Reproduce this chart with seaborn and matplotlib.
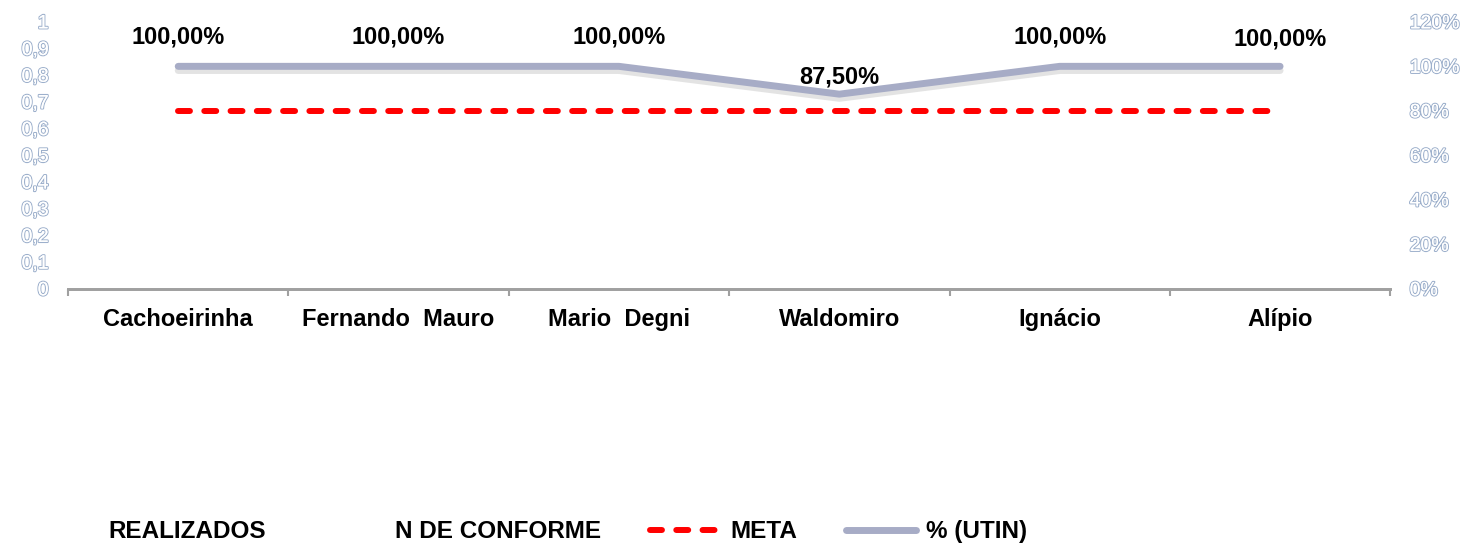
import matplotlib

matplotlib.use("Agg")
import matplotlib.pyplot as plt
import matplotlib.patheffects as pe
from matplotlib.lines import Line2D
import numpy as np
import pandas as pd
import seaborn as sns

# Données
unidades = ["Cachoeirinha", "Fernando  Mauro", "Mario  Degni", "Waldomiro", "Ignácio", "Alípio"]
utin_pct = [1.0, 1.0, 1.0, 0.875, 1.0, 1.0]
meta_pct = [0.8, 0.8, 0.8, 0.8, 0.8, 0.8]
rotulos = ["100,00%", "100,00%", "100,00%", "87,50%", "100,00%", "100,00%"]
left_ticks = [0, 0.1, 0.2, 0.3, 0.4, 0.5, 0.6, 0.7, 0.8, 0.9, 1.0]
left_labels = ["0", "0,1", "0,2", "0,3", "0,4", "0,5", "0,6", "0,7", "0,8", "0,9", "1"]
right_ticks = [0, 0.2, 0.4, 0.6, 0.8, 1.0, 1.2]
right_labels = ["0%", "20%", "40%", "60%", "80%", "100%", "120%"]

sns.set_theme(style="white")
FAM = ["Liberation Sans Narrow", "Liberation Sans", "DejaVu Sans"]
plt.rcParams["font.family"] = FAM

GREY = "#A7ACC6"
RED = "#FF0000"
hollow = [pe.withStroke(linewidth=1.6, foreground="#9DB0CC"), pe.Normal()]

df = pd.DataFrame({"unidade": unidades, "utin": utin_pct, "meta": meta_pct})

fig = plt.figure(figsize=(14.79, 5.46), dpi=100)
ax = fig.add_axes([0.046, 0.471, 0.894, 0.489])
ax2 = ax.twinx()

x = np.arange(len(unidades))
sns.lineplot(x=x, y=df["meta"], ax=ax2, color=RED, lw=4.3)
ax2.lines[-1].set_dashes((2.0, 2.4))
ax2.lines[-1].set_dash_capstyle("round")
sns.lineplot(x=x, y=df["utin"], ax=ax2, color=GREY, lw=5,
             path_effects=[pe.SimpleLineShadow(offset=(0, -3), shadow_color="#C8C8C8", alpha=0.5),
                           pe.Normal()])

offsets = [21, 21, 21, 12, 21, 20]
for xi, v, lab, off in zip(x, utin_pct, rotulos, offsets):
    ax2.annotate(lab, (xi, v), xytext=(0, off), textcoords="offset points",
                 ha="center", va="center", fontsize=17, fontweight="bold",
                 color="black")

ax.set_xlim(-0.5, len(unidades) - 0.5)
ax.set_ylim(0, 1)
ax2.set_ylim(0, 1.2)
ax.set_yticks(left_ticks)
ax.set_yticklabels(left_labels)
ax2.set_yticks(right_ticks)
ax2.set_yticklabels(right_labels)
for t in ax.get_yticklabels() + ax2.get_yticklabels():
    t.set_color("white")
    t.set_fontsize(14)
    t.set_path_effects(hollow)
ax.tick_params(axis="y", length=0, pad=14)
ax2.tick_params(axis="y", length=0, pad=14)
ax2.set_ylabel("")
ax.set_ylabel("")

ax.set_xticks(x)
ax.set_xticklabels(unidades, fontsize=17, fontweight="bold", color="black")
ax.set_xticks(np.arange(-0.5, len(unidades)), minor=True)
ax.tick_params(axis="x", which="major", length=0, pad=14)
ax.tick_params(axis="x", which="minor", length=5, width=1.5, color="#A0A0A0",
               direction="out", bottom=True)
ax.set_xlabel("")

for a in (ax, ax2):
    for s in ("top", "left", "right"):
        a.spines[s].set_visible(False)
    a.spines["bottom"].set_color("#A0A0A0")
    a.spines["bottom"].set_linewidth(2)

handles = [Line2D([], [], color="none"), Line2D([], [], color="none"),
           Line2D([], [], color=RED, lw=4.3, dashes=(2.0, 2.4), dash_capstyle="round"),
           Line2D([], [], color=GREY, lw=5, solid_capstyle="round")]
labels = ["REALIZADOS", "N DE CONFORME", "META", "% (UTIN)"]
leg = fig.legend(handles, labels, loc="center left", bbox_to_anchor=(0.004, 0.026),
                 ncol=4, frameon=False, handlelength=2.9, handletextpad=0.41,
                 columnspacing=2.0, labelcolor="black",
                 prop={"family": FAM, "weight": "bold", "size": 17.5})

fig.savefig("out.png", dpi=100)
